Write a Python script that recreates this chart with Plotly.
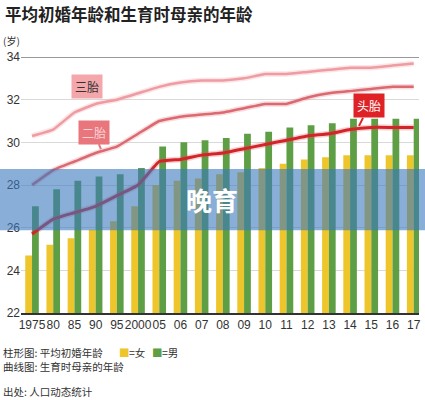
import plotly.graph_objects as go

years = ["1975", "80", "85", "90", "95", "2000", "05", "06", "07", "08",
         "09", "10", "11", "12", "13", "14", "15", "16", "17"]
female_marriage = [24.7, 25.2, 25.5, 25.9, 26.3, 27.0, 28.0, 28.2, 28.3, 28.5,
                   28.6, 28.8, 29.0, 29.2, 29.3, 29.4, 29.4, 29.4, 29.4]
male_marriage = [27.0, 27.8, 28.2, 28.4, 28.5, 28.8, 29.8, 30.0, 30.1, 30.2,
                 30.4, 30.5, 30.7, 30.8, 30.9, 31.1, 31.1, 31.1, 31.1]
first_child = [25.7, 26.4, 26.7, 27.0, 27.5, 28.0, 29.1, 29.2, 29.4, 29.5,
               29.7, 29.9, 30.1, 30.3, 30.4, 30.6, 30.7, 30.7, 30.7]
second_child = [28.0, 28.7, 29.1, 29.5, 29.8, 30.4, 31.0, 31.2, 31.3, 31.4,
                31.6, 31.8, 31.8, 32.1, 32.3, 32.4, 32.5, 32.6, 32.6]
third_child = [30.3, 30.6, 31.4, 31.8, 32.0, 32.3, 32.6, 32.8, 32.9, 32.9,
               33.0, 33.2, 33.2, 33.3, 33.4, 33.5, 33.5, 33.6, 33.7]
y_ticks = [22, 24, 26, 28, 30, 32, 34]

x = list(range(len(years)))
CJK = "Noto Sans CJK SC"
YELLOW = "#EEC62C"
GREEN = "#5E9F45"

fig = go.Figure()
fig.add_trace(go.Bar(x=x, y=female_marriage, base=0, marker=dict(color=YELLOW, line=dict(width=0)),
                     name="女", showlegend=False))
fig.add_trace(go.Bar(x=x, y=male_marriage, base=0, marker=dict(color=GREEN, line=dict(width=0)),
                     name="男", showlegend=False))

def glow_line(vals, color, glow, w):
    fig.add_trace(go.Scatter(x=x, y=vals, mode="lines", line=dict(color=glow, width=w + 3, shape="spline", smoothing=0.3),
                             hoverinfo="skip", showlegend=False))
    fig.add_trace(go.Scatter(x=x, y=vals, mode="lines", line=dict(color=color, width=w, shape="spline", smoothing=0.3),
                             showlegend=False))

glow_line(third_child, "#EE9CA2", "rgba(245,170,175,0.3)", 2.5)
glow_line(second_child, "#DC6870", "rgba(230,140,148,0.3)", 2.5)
glow_line(first_child, "#D3242A", "rgba(220,80,80,0.25)", 3)

fig.update_layout(
    width=425, height=400,
    margin=dict(l=21, r=6, t=57, b=87, autoexpand=False),
    paper_bgcolor="white", plot_bgcolor="white",
    barmode="group", bargap=0.36, bargroupgap=0,
    font=dict(family=CJK, color="#333333"),
    xaxis=dict(range=[-0.52, 18.25], tickvals=x, ticktext=years, showgrid=False, automargin=False,
               showline=True, linecolor="#333333", linewidth=1.5, ticks="", tickangle=0,
               tickfont=dict(family="Liberation Sans, Arial", size=12, color="#333333")),
    yaxis=dict(range=[22, 34], tickvals=y_ticks, showgrid=True, gridcolor="#D9D9D9", gridwidth=1,
               zeroline=False, showline=False, ticks="", automargin=False,
               tickfont=dict(family="Liberation Sans, Arial", size=12, color="#333333")),
)

# top line at 34
fig.add_shape(type="line", xref="paper", yref="y", x0=0, x1=1, y0=34, y1=34,
              line=dict(color="#777777", width=1.5), layer="above")

# banner
fig.add_shape(type="rect", xref="paper", yref="y", x0=-21/398, x1=1 + 6/398, y0=25.88, y1=28.75,
              fillcolor="rgba(58,120,190,0.6)", line=dict(width=0), layer="above")
fig.add_annotation(xref="paper", yref="y", x=(212-21)/398, y=27.3, text="<b>晚育</b>", showarrow=False,
                   font=dict(family=CJK, size=26, color="white"))

# line labels
fig.add_annotation(x=(87-32)/21.2, y=34-(86-57)/21.33, text="三胎", showarrow=False,
                   bgcolor="#F4A7AB", borderpad=3, font=dict(family=CJK, size=12, color="#333333"))
fig.add_annotation(x=3.25, y=29.68, text="二胎", showarrow=True, ax=-7, ay=-17, arrowhead=0,
                   arrowwidth=2, arrowcolor="#E8767C",
                   bgcolor="#E8767C", borderpad=3, font=dict(family=CJK, size=12, color="#F9D4D6"))
fig.add_annotation(x=15.42, y=30.77, text="头胎", showarrow=True, ax=10, ay=-20, arrowhead=0,
                   arrowwidth=2, arrowcolor="#DE2225",
                   bgcolor="#DE2225", borderpad=3, font=dict(family=CJK, size=12, color="white"))

# title and texts
def px_x(p):
    return (p - 21) / 398

def px_y(p):
    return (313 - p) / 256

def note(px, py, text, size=10.5, color="#333333", bold=False):
    fig.add_annotation(xref="paper", yref="paper", x=px_x(px), y=px_y(py), xanchor="left", yanchor="middle",
                       text=f"<b>{text}</b>" if bold else text, showarrow=False, borderpad=0,
                       font=dict(family=CJK, size=size, color=color))

note(4, 14, "平均初婚年龄和生育时母亲的年龄", size=16.5, color="#222222", bold=True)
note(2, 40, "(岁)", size=10)
note(2, 352, "柱形图: 平均初婚年龄")
note(118, 352, "■", color=YELLOW)
note(128, 352, "=女")
note(151, 352, "■", color=GREEN)
note(161, 352, "=男")
note(2, 366, "曲线图: 生育时母亲的年龄")
note(2, 391, "出处: 人口动态统计")

fig.write_html("out.html", post_script="document.body.style.margin='0';",
               config={"displayModeBar": False})
